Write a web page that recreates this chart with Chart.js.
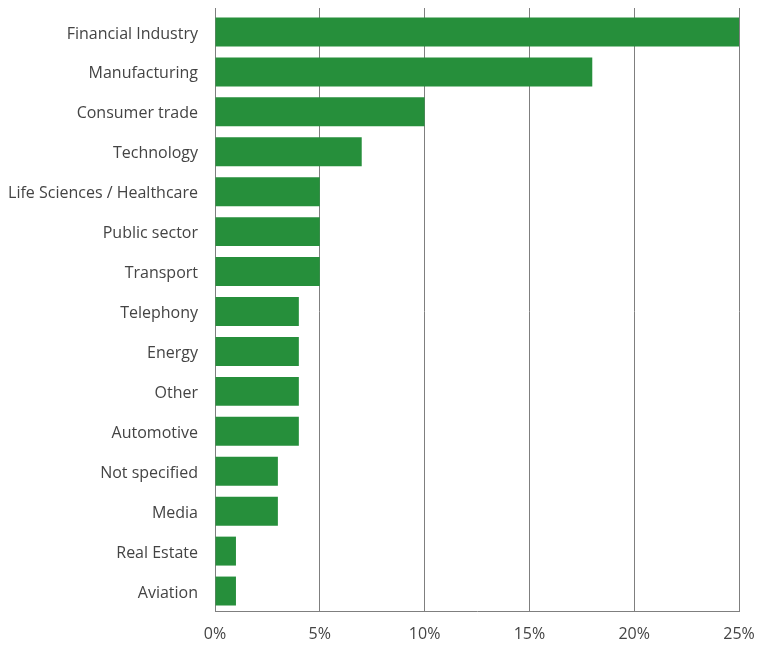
<!DOCTYPE html>
<html>
<head>
<meta charset="utf-8">
<script src="https://cdn.jsdelivr.net/npm/chart.js@4"></script>
<style>
  html, body { margin: 0; padding: 0; background: #fff; }
  #wrap { width: 757px; height: 645px; }
</style>
</head>
<body>
<div id="wrap"><canvas id="sectors" width="757" height="645"></canvas></div>
<script>
// sector share, percent
const sectors = [
  'Financial Industry', 'Manufacturing', 'Consumer trade', 'Technology',
  'Life Sciences / Healthcare', 'Public sector', 'Transport', 'Telephony',
  'Energy', 'Other', 'Automotive', 'Not specified', 'Media', 'Real Estate', 'Aviation'
];
const shares = [25, 18, 10, 7, 5, 5, 5, 4, 4, 4, 4, 3, 3, 1, 1];
const axisMax = 25;
const axisStep = 5;

const green = '#268f3b';
const lineGrey = '#7f7f7f';
const textGrey = '#444444';
const font = { family: "'Open Sans', sans-serif", size: 16 };

// fixed box sizes, and no label overflow padding pushed into the layout
const fixBox = (w, h) => s => {
  if (w != null) s.width = w;
  if (h != null) s.height = h;
  s.paddingTop = s.paddingBottom = s.paddingLeft = s.paddingRight = 0;
};

new Chart(document.getElementById('sectors'), {
  type: 'bar',
  data: {
    labels: sectors,
    datasets: [{
      data: shares,
      backgroundColor: green,
      borderWidth: 0,
      barPercentage: 0.725,
      categoryPercentage: 1
    }]
  },
  options: {
    indexAxis: 'y',
    responsive: false,
    animation: false,
    layout: { padding: { top: 8, right: 18, bottom: 3, left: 0 } },
    plugins: { legend: { display: false }, tooltip: { enabled: false } },
    scales: {
      x: {
        min: 0,
        max: axisMax,
        ticks: {
          stepSize: axisStep,
          padding: 14,
          color: textGrey,
          font: font,
          callback: v => v + '%'
        },
        grid: { color: lineGrey, lineWidth: 1, drawTicks: false, tickLength: 0 },
        border: { color: lineGrey, width: 1 },
        afterFit: fixBox(null, 31)
      },
      // hidden top axis only to carry the gridlines a few px above the plot
      x2: {
        position: 'top',
        min: 0,
        max: axisMax,
        ticks: { stepSize: axisStep, display: false },
        grid: { color: lineGrey, drawOnChartArea: false, tickLength: 4 },
        border: { display: false },
        afterFit: fixBox(null, 4)
      },
      y: {
        ticks: { color: textGrey, font: font, padding: 17, labelOffset: 2 },
        grid: { display: false, drawTicks: false, tickLength: 0 },
        border: { color: lineGrey, width: 1 },
        afterFit: fixBox(215, null)
      }
    }
  }
});
</script>
</body>
</html>
